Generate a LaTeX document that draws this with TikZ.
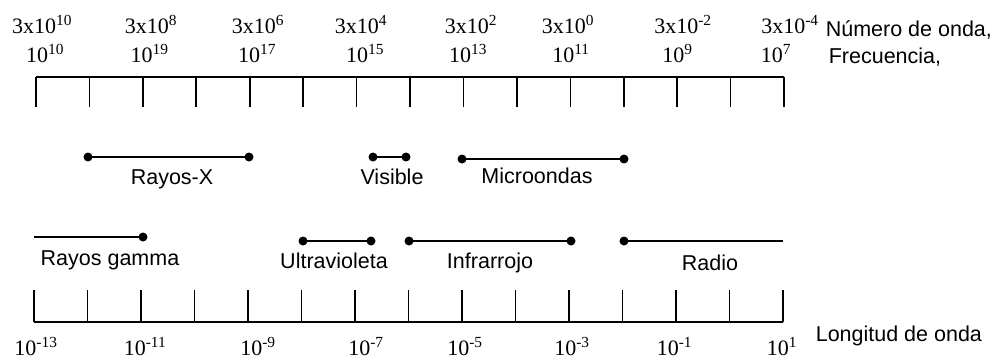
\documentclass[tikz,border=0pt]{standalone}
\usepackage{fontspec}
\setmainfont{Liberation Serif}
\newfontfamily\etiqfont{Liberation Sans}
\newcommand{\pot}[2]{#1\textsuperscript{#2}}

\begin{document}
\begin{tikzpicture}[x=1pt, y=-1pt, line width=1.6pt,
    num/.style={anchor=base, inner sep=0pt, font=\fontsize{22}{26}\selectfont},
    etiq/.style={anchor=base, inner sep=0pt, font=\etiqfont\fontsize{21.5}{26}\selectfont},
    punto/.style={fill=black}]
  \useasboundingbox (0,0) rectangle (1000,360);

  % escala superior
  \draw (36,77) -- (784,77);
  \foreach \k in {0,...,14}
    \draw (36+53.43*\k,77) -- (36+53.43*\k,107);

  \foreach \x/\e [count=\i] in {42/10, 151/8, 258/6, 361/4, 471/2, 568/0, 683/-2, 790/-4}
    \node[num] (onda\i) at (\x,33) {\pot{3x10}{\e}};
  \foreach \x/\e [count=\i] in {45/10, 149.5/19, 257/17, 365/15, 468/13, 571/11, 677.5/9, 776/7}
    \node[num] (frec\i) at (\x,62) {\pot{10}{\e}};

  \node[etiq, anchor=base west] (numonda) at (825,36) {Número de onda,};
  \node[etiq, anchor=base west] (frecuencia) at (828,63) {Frecuencia,};

  % escala inferior
  \draw (34,322) -- (783,322);
  \foreach \k in {0,...,14}
    \draw (34+53.5*\k,322) -- (34+53.5*\k,290);

  \foreach \x/\e [count=\i] in {36/-13, 145/-11, 258/-9, 366/-7, 465/-5, 572/-3, 674.5/-1, 782/1}
    \node[num] (long\i) at (\x,355) {\pot{10}{\e}};

  \node[etiq, anchor=base west] (longitud) at (815,341) {Longitud de onda};

  % regiones del espectro
  \foreach \a/\b/\y in {88/249/157, 373/406/157, 462/624/159, 303/371/241, 409/571/241} {
    \draw (\a,\y) -- (\b,\y);
    \fill[punto] (\a,\y) circle (4.5pt) (\b,\y) circle (4.5pt);
  }
  \draw (34,237) -- (143,237);
  \fill[punto] (143,237) circle (4.5pt);
  \draw (624,241) -- (783,241);
  \fill[punto] (624,241) circle (4.5pt);

  \node[etiq] (rayosx) at (172,184) {Rayos-X};
  \node[etiq] (visible) at (392,184) {Visible};
  \node[etiq] (micro) at (537,183) {Microondas};
  \node[etiq] (gamma) at (110,265) {Rayos gamma};
  \node[etiq] (ultra) at (334,268) {Ultravioleta};
  \node[etiq] (infra) at (490,268) {Infrarrojo};
  \node[etiq] (radio) at (710,270) {Radio};
\end{tikzpicture}
\end{document}
